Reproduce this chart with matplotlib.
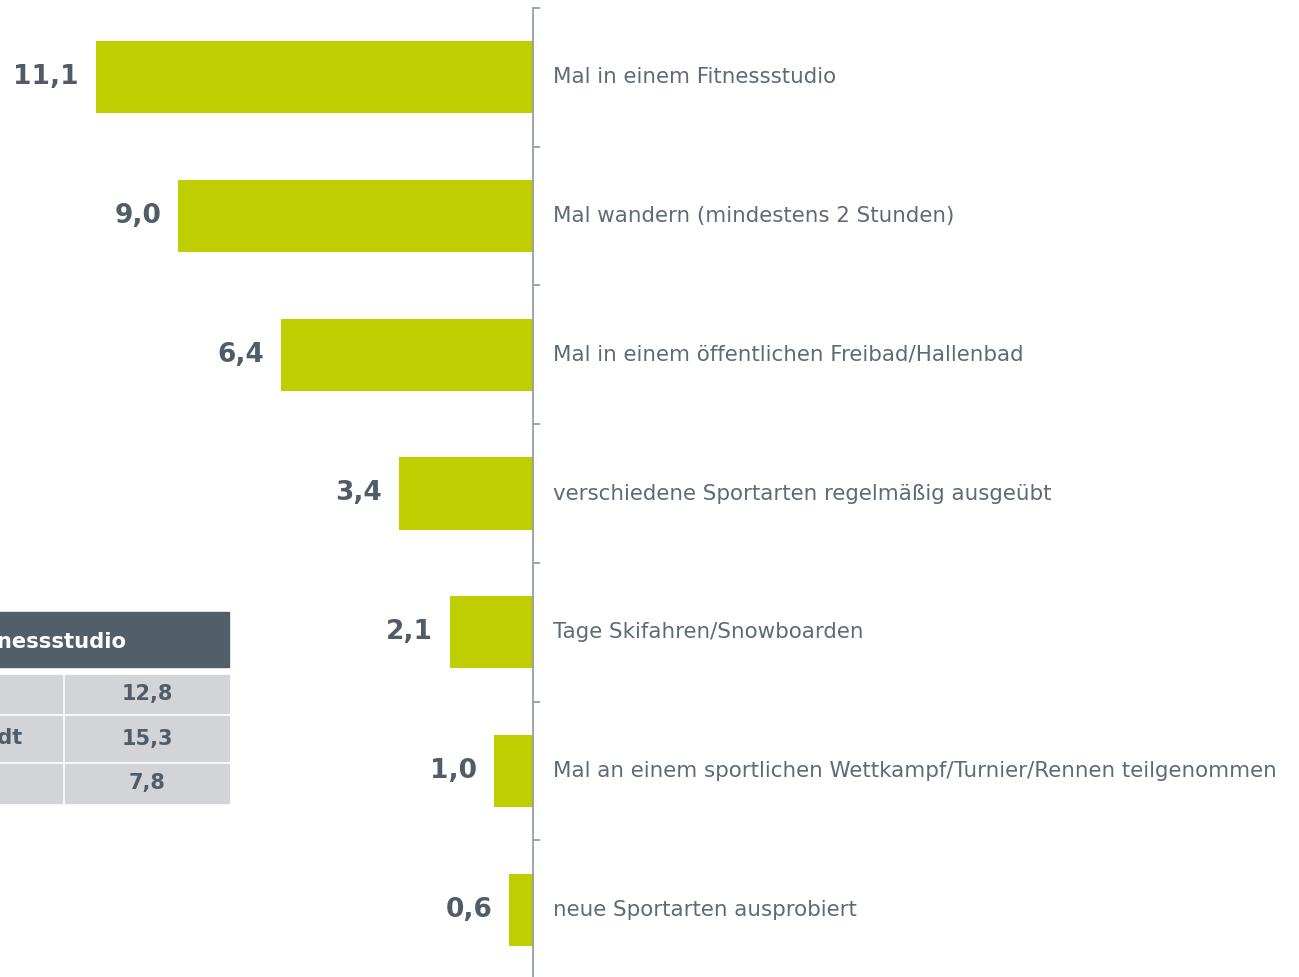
import matplotlib
matplotlib.use('Agg')
import matplotlib.pyplot as plt
from matplotlib.patches import Rectangle

categories = ['Mal in einem Fitnessstudio',
              'Mal wandern (mindestens 2 Stunden)',
              'Mal in einem öffentlichen Freibad/Hallenbad',
              'verschiedene Sportarten regelmäßig ausgeübt',
              'Tage Skifahren/Snowboarden',
              'Mal an einem sportlichen Wettkampf/Turnier/Rennen teilgenommen',
              'neue Sportarten ausprobiert']
values = [11.1, 9.0, 6.4, 3.4, 2.1, 1.0, 0.6]

table_header = 'Fitnessstudio'
table_rows = ['Gesamt', 'Großstadt', 'Land']
table_values = [12.8, 15.3, 7.8]

green = '#BFCE00'
dark = '#505C68'
grey_text = '#5E6A74'
axis_col = '#8C969F'

W, H = 1299, 977
fig = plt.figure(figsize=(W / 100, H / 100), dpi=100)
plt.rcParams['font.family'] = 'DejaVu Sans'

# axes: zero line at x=533px, categories from y=8 to 979px
ax = fig.add_axes([0, (H - 979) / H, 533 / W, 971 / H])
ax.barh(range(len(values)), values, height=0.52, color=green)
ax.set_xlim(533 / 39.4, 0)
ax.set_ylim(len(values) - 0.5, -0.5)

for s in ['left', 'top', 'bottom']:
    ax.spines[s].set_visible(False)
ax.spines['right'].set_color(axis_col)
ax.spines['right'].set_linewidth(1.2)
ax.set_xticks([])
ax.yaxis.tick_right()
ax.set_yticks([i - 0.5 for i in range(len(values) + 1)])
ax.set_yticklabels([])
ax.tick_params(axis='y', direction='out', length=5, width=1.2, color=axis_col)

for i, (cat, v) in enumerate(zip(categories, values)):
    ax.annotate(f'{v:.1f}'.replace('.', ','), xy=(v, i), xytext=(-17, 0),
                textcoords='offset pixels', ha='right', va='center',
                fontsize=19, fontweight='bold', color=dark)
    ax.annotate(cat, xy=(0, i), xytext=(20, 0), textcoords='offset pixels',
                ha='left', va='center', fontsize=15.4, color=grey_text,
                annotation_clip=False)

# small table on the left (cut off at the figure edge)
def px(x, y):
    return x / W, 1 - y / H

def box(x0, y0, x1, y1, col):
    fig.patches.append(Rectangle(px(x0, y1), (x1 - x0) / W, (y1 - y0) / H,
                                 transform=fig.transFigure, color=col, zorder=0))

box(-10, 612, 229, 667, '#525E6A')
fig.text(*px(126, 642), table_header, ha='right', va='center', fontsize=15.2,
         fontweight='bold', color='white')
rows_y = [(675, 713), (716, 761), (764, 803)]
for (y0, y1), lab, val in zip(rows_y, table_rows, table_values):
    box(-10, y0, 62, y1, '#D3D4D8')
    box(65, y0, 229, y1, '#D3D4D8')
    yc = (y0 + y1) / 2
    fig.text(*px(-96, yc), lab, ha='left', va='center', fontsize=15,
             fontweight='bold', color=dark)
    fig.text(*px(147, yc), f'{val:.1f}'.replace('.', ','), ha='center',
             va='center', fontsize=15, fontweight='bold', color=dark)

fig.savefig('out.png', dpi=100)
